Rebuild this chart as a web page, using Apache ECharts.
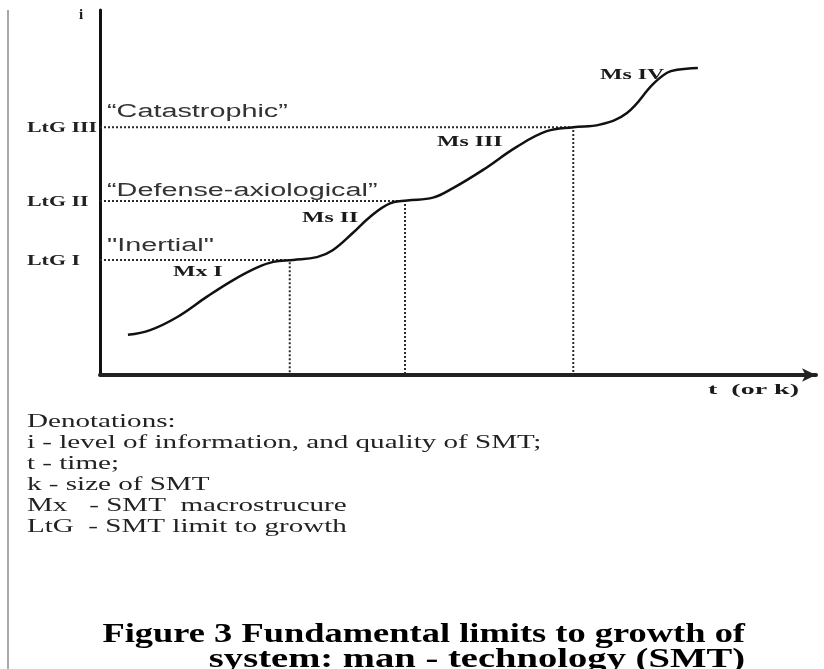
<!DOCTYPE html>
<html>
<head>
<meta charset="utf-8">
<script src="https://cdn.jsdelivr.net/npm/echarts@6/dist/echarts.min.js"></script>
<style>
  html, body { margin: 0; padding: 0; background: #fff; }
  #chart { width: 824px; height: 669px; }
</style>
</head>
<body>
<div id="chart"></div>
<script>
// growth curve i(t) (t and i in 0..100 axis units)
const curveT = [3.9, 7.0, 10.8, 14.9, 18.6, 21.9, 24.2, 27.0, 30.3, 32.5, 35.3, 37.7, 40.5, 42.9,
  46.5, 49.3, 53.5, 58.2, 62.4, 66.1, 69.8, 73.6, 77.2, 79.2, 80.6, 83.5]
const curveI = [11.0, 12.3, 15.9, 21.4, 26.0, 29.4, 31.0, 31.5, 32.3, 34.2, 38.9, 43.3, 47.0, 47.8,
  48.6, 51.2, 56.2, 62.5, 66.8, 67.9, 68.6, 71.8, 79.6, 82.8, 83.6, 84.1]

// limits to growth (y) and where the curve reaches them (t)
const levelNames = ['LtG I', 'LtG II', 'LtG III']
const levelValues = [31.5, 47.7, 67.9]
const levelT = [26.5, 42.6, 66.1]

const denotations = [
  'Denotations:',
  'i - level of information, and quality of SMT;',
  't - time;',
  'k - size of SMT',
  'Mx   - SMT  macrostrucure',
  'LtG  - SMT limit to growth'
]

const chart = echarts.init(document.getElementById('chart'))

const levelSeries = levelValues.map((v, i) => ({
  type: 'line',
  silent: true,
  symbol: 'none',
  z: 1,
  lineStyle: { color: '#2a2a2a', width: 2, type: [2, 2] },
  data: [[0, v], [levelT[i], v], [levelT[i], 0]]
}))

chart.setOption({
  animation: false,
  backgroundColor: '#fff',
  grid: { left: 100, right: 8, top: 10, bottom: 294 },
  xAxis: {
    type: 'value',
    min: 0,
    max: 100,
    axisLine: {
      show: true,
      symbol: ['none', 'arrow'],
      symbolSize: [10, 14],
      lineStyle: { color: '#222', width: 4 }
    },
    axisTick: { show: false },
    axisLabel: { show: false },
    splitLine: { show: false }
  },
  yAxis: {
    type: 'value',
    min: 0,
    max: 100,
    axisLine: { show: true, lineStyle: { color: '#111', width: 3 } },
    axisTick: { show: false },
    axisLabel: { show: false },
    splitLine: { show: false }
  },
  series: levelSeries.concat([{
    type: 'line',
    name: 'i',
    symbol: 'none',
    smooth: 0.4,
    z: 3,
    lineStyle: { color: '#111', width: 2.5 },
    data: curveT.map((t, i) => [t, curveI[i]])
  }])
})

function txt(x, y, text, font, opts) {
  opts = opts || {}
  return {
    type: 'text',
    x: x,
    y: y,
    scaleX: opts.scaleX || 1,
    silent: true,
    style: {
      text: text,
      font: font,
      fill: opts.color || '#1a1a1a',
      textAlign: opts.align || 'left',
      textVerticalAlign: 'middle'
    }
  }
}

const sans = '18px "Liberation Sans", Arial, sans-serif'
const serifB = 'bold 14px "Liberation Serif", "Times New Roman", serif'
const serif = '19px "Liberation Serif", "Times New Roman", serif'
const capFont = 'bold 27px "Liberation Serif", "Times New Roman", serif'

const graphics = [
  // page margin rule on the left
  { type: 'line', silent: true, shape: { x1: 8, y1: 10, x2: 8, y2: 669 }, style: { stroke: '#aaa', lineWidth: 2 } },
  txt(79, 15, 'i', 'bold 15px "Liberation Serif", serif'),
  txt(107, 112, '\u201cCatastrophic\u201d', sans, { scaleX: 1.6, color: '#333' }),
  txt(107, 191, '\u201cDefense-axiological\u201d', sans, { scaleX: 1.6, color: '#333' }),
  txt(107, 246, '"Inertial"', sans, { scaleX: 1.6, color: '#333' }),
  txt(173, 272, 'Mx I', serifB, { scaleX: 1.7 }),
  txt(302, 218, 'Ms II', serifB, { scaleX: 1.7 }),
  txt(437, 142, 'Ms III', serifB, { scaleX: 1.7 }),
  txt(600, 75, 'Ms IV', serifB, { scaleX: 1.7 }),
  txt(708, 390, 't  (or k)', serifB, { scaleX: 2.0 }),
  txt(745, 635, 'Figure 3 Fundamental limits to growth of', capFont, { scaleX: 1.35, align: 'right', color: '#000' }),
  txt(745, 660, 'system: man - technology (SMT)', capFont, { scaleX: 1.43, align: 'right', color: '#000' })
]
// limit-to-growth labels sit on the y scale at their level values
levelValues.forEach((v, i) => {
  const y = chart.convertToPixel({ gridIndex: 0 }, [0, v])[1]
  graphics.push(txt(27, y + 1, levelNames[i], 'bold 15px "Liberation Serif", serif', { scaleX: 1.46, color: '#222' }))
})
denotations.forEach((line, i) => {
  graphics.push(txt(27, 422 + i * 21, line, serif, { scaleX: 1.53, color: '#222' }))
})

chart.setOption({ graphic: graphics })
</script>
</body>
</html>
